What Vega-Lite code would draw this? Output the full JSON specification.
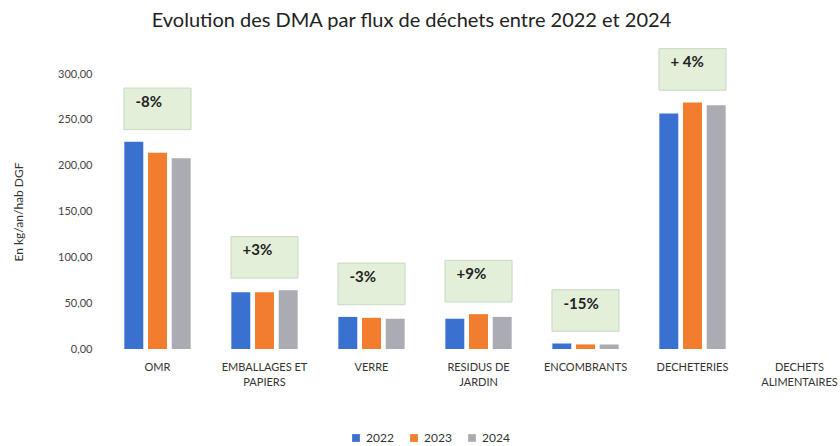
{
  "$schema": "https://vega.github.io/schema/vega-lite/v6.json",
  "autosize": {"type": "none"},
  "width": 749,
  "height": 275,
  "padding": {"left": 104, "top": 74, "right": 0, "bottom": 97},
  "background": "white",
  "config": {
    "font": "Lato",
    "view": {"stroke": null}
  },
  "title": {
    "text": "Evolution des DMA par flux de déchets entre 2022 et 2024",
    "fontSize": 20,
    "fontWeight": "normal",
    "color": "#222",
    "anchor": "middle",
    "dx": -67,
    "offset": 16
  },
  "data": {
    "values": [
      {"flux": "OMR", "annee": "2022", "dma": 226, "evolution": "-8%"},
      {"flux": "OMR", "annee": "2023", "dma": 214, "evolution": "-8%"},
      {"flux": "OMR", "annee": "2024", "dma": 208, "evolution": "-8%"},
      {"flux": "EMBALLAGES ET PAPIERS", "annee": "2022", "dma": 62, "evolution": "+3%"},
      {"flux": "EMBALLAGES ET PAPIERS", "annee": "2023", "dma": 62, "evolution": "+3%"},
      {"flux": "EMBALLAGES ET PAPIERS", "annee": "2024", "dma": 64, "evolution": "+3%"},
      {"flux": "VERRE", "annee": "2022", "dma": 35, "evolution": "-3%"},
      {"flux": "VERRE", "annee": "2023", "dma": 34, "evolution": "-3%"},
      {"flux": "VERRE", "annee": "2024", "dma": 33, "evolution": "-3%"},
      {"flux": "RESIDUS DE JARDIN", "annee": "2022", "dma": 33, "evolution": "+9%"},
      {"flux": "RESIDUS DE JARDIN", "annee": "2023", "dma": 38, "evolution": "+9%"},
      {"flux": "RESIDUS DE JARDIN", "annee": "2024", "dma": 35, "evolution": "+9%"},
      {"flux": "ENCOMBRANTS", "annee": "2022", "dma": 6, "evolution": "-15%"},
      {"flux": "ENCOMBRANTS", "annee": "2023", "dma": 5, "evolution": "-15%"},
      {"flux": "ENCOMBRANTS", "annee": "2024", "dma": 5, "evolution": "-15%"},
      {"flux": "DECHETERIES", "annee": "2022", "dma": 257, "evolution": "+ 4%"},
      {"flux": "DECHETERIES", "annee": "2023", "dma": 269, "evolution": "+ 4%"},
      {"flux": "DECHETERIES", "annee": "2024", "dma": 266, "evolution": "+ 4%"}
    ]
  },
  "encoding": {
    "x": {
      "field": "flux",
      "type": "nominal",
      "sort": null,
      "scale": {
        "domain": ["OMR", "EMBALLAGES ET PAPIERS", "VERRE", "RESIDUS DE JARDIN", "ENCOMBRANTS", "DECHETERIES", "DECHETS ALIMENTAIRES"],
        "paddingInner": 0.38,
        "paddingOuter": 0.19
      },
      "axis": {
        "title": null,
        "labelAngle": 0,
        "labelFontSize": 11,
        "labelColor": "#333",
        "labelPadding": 12,
        "labelLineHeight": 15,
        "ticks": false,
        "domain": false,
        "labelExpr": "datum.label == 'EMBALLAGES ET PAPIERS' ? ['EMBALLAGES ET', 'PAPIERS'] : datum.label == 'RESIDUS DE JARDIN' ? ['RESIDUS DE', 'JARDIN'] : datum.label == 'DECHETS ALIMENTAIRES' ? ['DECHETS', 'ALIMENTAIRES'] : datum.label"
      }
    }
  },
  "layer": [
    {
      "mark": {"type": "bar"},
      "encoding": {
        "xOffset": {"field": "annee", "type": "nominal", "scale": {"paddingInner": 0.2}},
        "y": {
          "field": "dma",
          "type": "quantitative",
          "scale": {"domain": [0, 300]},
          "axis": {
            "title": "En kg/an/hab DGF",
            "titleFontSize": 12,
            "titleFontWeight": "normal",
            "titleColor": "#333",
            "titlePadding": 32,
            "values": [0, 50, 100, 150, 200, 250, 300],
            "labelExpr": "replace(format(datum.value, '.2f'), '.', ',')",
            "labelFontSize": 11,
            "labelColor": "#444",
            "labelPadding": 12,
            "ticks": false,
            "domain": false,
            "grid": false
          }
        },
        "color": {
          "field": "annee",
          "type": "nominal",
          "scale": {"domain": ["2022", "2023", "2024"], "range": ["#3A70CF", "#F27D2F", "#ABABB4"]},
          "legend": {
            "title": null,
            "orient": "none",
            "direction": "horizontal",
            "legendX": 246,
            "legendY": 358,
            "symbolType": "square",
            "symbolSize": 60,
            "labelFontSize": 12,
            "labelColor": "#333",
            "columnPadding": 14
          }
        }
      }
    },
    {
      "transform": [
        {"aggregate": [{"op": "max", "field": "dma", "as": "maxdma"}], "groupby": ["flux", "evolution"]}
      ],
      "mark": {
        "type": "point",
        "shape": "M-1,-0.62H1V0.62H-1Z",
        "filled": true,
        "size": 4500,
        "color": "#E3EFD8",
        "stroke": "#C9D8C0",
        "strokeWidth": 1,
        "opacity": 1,
        "yOffset": -33
      },
      "encoding": {
        "y": {"field": "maxdma", "type": "quantitative"}
      }
    },
    {
      "transform": [
        {"aggregate": [{"op": "max", "field": "dma", "as": "maxdma"}], "groupby": ["flux", "evolution"]}
      ],
      "mark": {
        "type": "text",
        "align": "left",
        "baseline": "middle",
        "dx": -22,
        "yOffset": -40,
        "fontSize": 15,
        "fontWeight": "bold",
        "color": "#222"
      },
      "encoding": {
        "y": {"field": "maxdma", "type": "quantitative"},
        "text": {"field": "evolution"}
      }
    }
  ]
}
